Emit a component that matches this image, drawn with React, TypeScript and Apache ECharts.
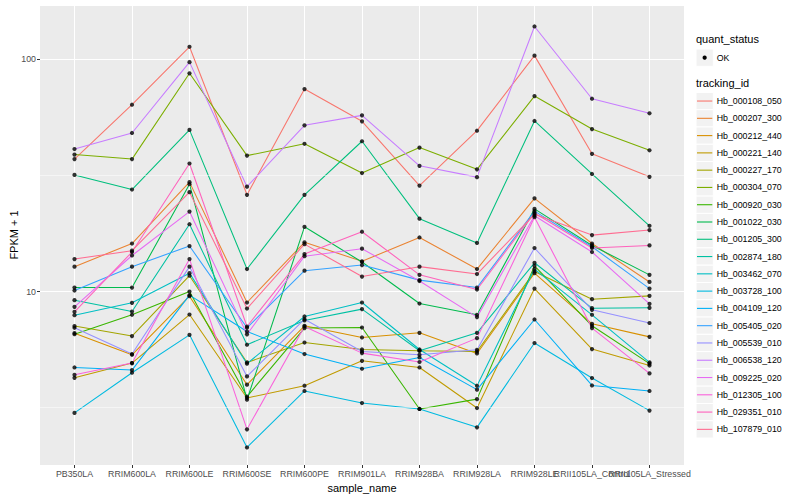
import React, { useEffect, useRef } from 'react';
import * as echarts from 'echarts';

const categories = [
  'PB350LA', 'RRIM600LA', 'RRIM600LE', 'RRIM600SE', 'RRIM600PE', 'RRIM901LA',
  'RRIM928BA', 'RRIM928LA', 'RRIM928LE', 'RRII105LA_Control', 'RRII105LA_Stressed',
];

const trackingIds = [
  'Hb_000108_050', 'Hb_000207_300', 'Hb_000212_440', 'Hb_000221_140', 'Hb_000227_170',
  'Hb_000304_070', 'Hb_000920_030', 'Hb_001022_030', 'Hb_001205_300', 'Hb_002874_180',
  'Hb_003462_070', 'Hb_003728_100', 'Hb_004109_120', 'Hb_005405_020', 'Hb_005539_010',
  'Hb_006538_120', 'Hb_009225_020', 'Hb_012305_100', 'Hb_029351_010', 'Hb_107879_010',
];

const colors = [
  '#F8766D', '#EA8331', '#D89000', '#C09B00', '#A3A500', '#7CAE00', '#39B600', '#00BB4E',
  '#00BF7D', '#00C1A3', '#00BFC4', '#00BAE0', '#00B0F6', '#35A2FF', '#9590FF', '#C77CFF',
  '#E76BF3', '#FA62DB', '#FF62BC', '#FF6C91',
];

// FPKM + 1 per sample, in category order
const hb000108 = [37.2, 63.8, 113.3, 26.1, 74.5, 54.1, 28.6, 49.3, 103.8, 39.2, 31.2];
const hb000207 = [12.8, 16.1, 29.6, 8.97, 16.3, 13.5, 17.1, 12.5, 25.2, 16.1, 11.0];
const hb000212 = [6.62, 5.34, 9.55, 3.97, 7.12, 6.34, 6.64, 5.41, 12.0, 7.26, 6.38];
const hb000221 = [4.25, 4.92, 7.96, 3.48, 3.93, 5.03, 4.71, 3.15, 10.3, 5.65, 4.8];
const hb000227 = [7.1, 6.43, 11.7, 4.95, 6.03, 5.63, 5.56, 5.52, 12.2, 9.27, 9.58];
const hb000304 = [38.9, 37.2, 87.1, 38.5, 43.3, 32.4, 41.7, 33.6, 69.5, 50.1, 40.6];
const hb000920 = [6.55, 7.94, 10.0, 3.53, 6.96, 7.0, 3.12, 3.44, 12.9, 7.12, 4.89];
const hb001022 = [10.4, 10.4, 29.0, 3.42, 19.0, 13.4, 8.88, 7.94, 22.7, 15.8, 11.8];
const hb001205 = [31.8, 27.5, 49.7, 12.5, 26.1, 44.4, 20.6, 16.2, 54.3, 32.1, 19.2];
const hb002874 = [9.18, 8.2, 19.5, 5.9, 7.51, 8.4, 5.56, 6.64, 13.3, 8.48, 8.51];
const hb003462 = [7.91, 8.94, 12.0, 4.89, 7.81, 8.97, 5.63, 3.93, 12.5, 7.94, 4.95];
const hb003728 = [3.0, 4.47, 6.51, 2.13, 3.73, 3.31, 3.12, 2.6, 6.0, 4.24, 3.07];
const hb004109 = [4.71, 4.59, 9.65, 6.73, 5.38, 4.65, 5.2, 3.78, 7.58, 3.94, 3.73];
const hb005405 = [10.1, 12.8, 15.7, 6.98, 12.3, 13.0, 11.2, 10.4, 22.2, 15.6, 10.3];
const hb005539 = [6.98, 5.38, 12.8, 4.31, 7.6, 5.52, 5.34, 5.61, 15.4, 8.34, 7.32];
const hb006538 = [41.1, 48.2, 97.3, 28.3, 52.0, 57.4, 34.8, 31.1, 138.6, 67.7, 58.6];
const hb009225 = [8.59, 14.3, 22.1, 6.54, 14.2, 15.3, 11.1, 7.76, 21.2, 14.8, 8.85];
const hb012305 = [4.38, 4.92, 13.8, 2.55, 7.07, 5.43, 4.97, 6.3, 20.9, 6.96, 4.44];
const hb029351 = [8.18, 14.8, 35.6, 7.07, 14.5, 18.1, 11.8, 10.2, 21.8, 15.4, 15.8];
const hb107879 = [13.8, 15.0, 26.8, 8.45, 16.0, 11.6, 12.8, 11.9, 21.5, 17.5, 18.4];

const seriesValues = [
  hb000108, hb000207, hb000212, hb000221, hb000227, hb000304, hb000920, hb001022, hb001205, hb002874,
  hb003462, hb003728, hb004109, hb005405, hb005539, hb006538, hb009225, hb012305, hb029351, hb107879,
];

const yMajorTicks = [10, 100];
const yMinorTicks = [3.1623, 31.623];
const yMin = 1.79;
const yMax = 171.5;

const FONT = 'Liberation Sans, Arial, Helvetica, sans-serif';

export default function App() {
  const ref = useRef<HTMLDivElement>(null);

  useEffect(() => {
    if (!ref.current) return;
    const chart = echarts.init(ref.current, undefined, { renderer: 'svg' });

    const xIdx = categories.map((_, i) => i);
    const n = categories.length;
    // label groups: ECharts hides an overlapping last label, so the last two
    // (overlapping, as in the reference) each get their own label axis
    const labelGroups = [xIdx.slice(0, n - 2), [n - 2], [n - 1]];

    const lineSeries = seriesValues.map((vals, k) => ({
      name: trackingIds[k],
      type: 'line',
      data: vals.map((v, i) => [i, v]),
      showSymbol: false,
      symbol: 'none',
      lineStyle: { color: colors[k], width: 1.07 },
      itemStyle: { color: colors[k] },
      z: 3,
      silent: true,
    }));

    const points: number[][] = [];
    seriesValues.forEach((vals) => vals.forEach((v, i) => points.push([i, v])));

    const keyTop = 92.4;
    const keyStep = 17.28;
    const keyX = 696;
    const keyW = 17.3;

    const legendEls: any[] = [
      {
        type: 'text', left: keyX, top: 33,
        style: { text: 'quant_status', font: `11px ${FONT}`, fill: '#000' },
      },
      {
        type: 'rect', shape: { x: keyX, y: 49, width: keyW, height: keyW },
        style: { fill: '#F2F2F2', stroke: '#fff', lineWidth: 1 },
      },
      { type: 'circle', shape: { cx: keyX + keyW / 2, cy: 49 + keyW / 2, r: 2.1 }, style: { fill: '#000' } },
      {
        type: 'text', x: 716.7, y: 49 + keyW / 2,
        style: { text: 'OK', font: `8.8px ${FONT}`, fill: '#000', verticalAlign: 'middle' },
      },
      {
        type: 'text', left: keyX, top: 77.5,
        style: { text: 'tracking_id', font: `11px ${FONT}`, fill: '#000' },
      },
    ];
    trackingIds.forEach((id, k) => {
      const y = keyTop + k * keyStep;
      legendEls.push({
        type: 'rect', shape: { x: keyX, y, width: keyW, height: keyStep },
        style: { fill: '#F2F2F2', stroke: '#fff', lineWidth: 1 },
      });
      legendEls.push({
        type: 'line', shape: { x1: keyX + 1, y1: y + keyStep / 2, x2: keyX + keyW - 1, y2: y + keyStep / 2 },
        style: { stroke: colors[k], lineWidth: 1.1 },
      });
      legendEls.push({
        type: 'text', x: 716.7, y: y + keyStep / 2,
        style: { text: id, font: `8.8px ${FONT}`, fill: '#000', verticalAlign: 'middle' },
      });
    });

    const labelStyle = {
      formatter: (v: number) => categories[Math.round(v)] ?? '',
      showMinLabel: true, showMaxLabel: true, hideOverlap: false,
      color: '#4D4D4D', fontSize: 8.8, margin: 4, fontFamily: FONT,
    };

    const xAxes = labelGroups.map((group, gi) => ({
      type: 'value',
      position: 'bottom',
      offset: 0,
      min: -0.6,
      max: 10.6,
      name: gi === 0 ? 'sample_name' : '',
      nameLocation: 'middle',
      nameGap: 17,
      nameMoveOverlap: false,
      nameTextStyle: { fontSize: 11, color: '#000', fontFamily: FONT },
      axisLine: { show: false, onZero: false },
      axisTick: gi === 0
        ? { show: true, customValues: xIdx, length: 3, lineStyle: { color: '#333', width: 1 } }
        : { show: false },
      axisLabel: { ...labelStyle, customValues: group },
      splitLine: { show: false },
    }));

    chart.setOption({
      animation: false,
      backgroundColor: '#fff',
      textStyle: { fontFamily: FONT },
      grid: {
        left: 40, right: 116, top: 5, bottom: 35,
        containLabel: false,
        outerBoundsMode: 'none',
        show: true, backgroundColor: '#EBEBEB', borderWidth: 0,
      },
      xAxis: xAxes,
      yAxis: {
        type: 'log',
        logBase: 10,
        min: yMin,
        max: yMax,
        name: 'FPKM + 1',
        nameLocation: 'middle',
        nameRotate: 90,
        nameGap: 21,
        nameMoveOverlap: false,
        nameTextStyle: { fontSize: 11, color: '#000', fontFamily: FONT },
        axisLine: { show: false, onZero: false },
        axisTick: { show: true, length: 3, lineStyle: { color: '#333', width: 1 } },
        axisLabel: {
          formatter: (v: number) => {
            const r = Math.round(v);
            return yMajorTicks.includes(r) && Math.abs(v - r) < 0.01 ? String(r) : '';
          },
          showMinLabel: false, showMaxLabel: false,
          color: '#4D4D4D', fontSize: 8.8, margin: 4, fontFamily: FONT,
        },
        splitLine: { show: true, lineStyle: { color: '#fff', width: 1.07 } },
      },
      graphic: legendEls,
      series: [
        {
          name: 'grid',
          type: 'scatter',
          data: [],
          silent: true,
          z: 1,
          markLine: {
            silent: true,
            symbol: 'none',
            label: { show: false },
            animation: false,
            data: [
              ...xIdx.map((i) => ({ xAxis: i, lineStyle: { color: '#fff', width: 1.07, type: 'solid' } })),
              ...yMinorTicks.map((v) => ({ yAxis: v, lineStyle: { color: '#fff', width: 0.53, type: 'solid' } })),
            ],
          },
        },
        ...lineSeries,
        {
          name: 'OK',
          type: 'scatter',
          data: points,
          symbol: 'circle',
          symbolSize: 4.2,
          itemStyle: { color: '#000' },
          z: 5,
          silent: true,
        },
      ],
    } as any);

    return () => chart.dispose();
  }, []);

  return <div ref={ref} style={{ position: 'fixed', left: 0, top: 0, width: 800, height: 500 }} />;
}
